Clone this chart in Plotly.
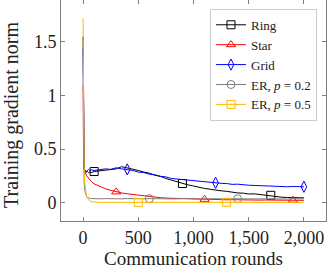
import plotly.graph_objects as go

# ---- data ----
rounds = [0, 2, 5, 10, 15, 20, 30, 40, 50, 60, 75, 100, 150, 200, 250, 300, 350, 400,
          450, 500, 550, 600, 650, 700, 750, 800, 850, 900, 950, 1000, 1050, 1100,
          1150, 1200, 1250, 1300, 1350, 1400, 1450, 1500, 1550, 1600, 1650, 1700,
          1750, 1800, 1850, 1900, 1950, 2000]

ring = [1.55, 0.9, 0.45, 0.32, 0.30, 0.29, 0.285, 0.29, 0.28, 0.285, 0.28, 0.29, 0.295,
        0.30, 0.31, 0.315, 0.335, 0.325, 0.31, 0.30, 0.285, 0.275, 0.255, 0.245, 0.225,
        0.21, 0.19, 0.178, 0.165, 0.155, 0.14, 0.132, 0.125, 0.115, 0.11, 0.105, 0.095,
        0.09, 0.088, 0.08, 0.082, 0.075, 0.072, 0.068, 0.058, 0.05, 0.048, 0.046, 0.045,
        0.044]

star = [1.1, 0.5, 0.33, 0.31, 0.29, 0.275, 0.255, 0.24, 0.225, 0.21, 0.195, 0.175, 0.15,
        0.13, 0.115, 0.10, 0.09, 0.082, 0.075, 0.068, 0.06, 0.056, 0.05, 0.046, 0.042,
        0.04, 0.038, 0.036, 0.034, 0.033, 0.03, 0.03, 0.028, 0.03, 0.027, 0.026, 0.027,
        0.025, 0.026, 0.024, 0.025, 0.023, 0.024, 0.022, 0.023, 0.021, 0.022, 0.022, 0.02,
        0.021]

grid = [1.45, 0.85, 0.42, 0.31, 0.30, 0.30, 0.29, 0.30, 0.31, 0.30, 0.305, 0.30, 0.305,
        0.315, 0.31, 0.325, 0.315, 0.31, 0.30, 0.285, 0.28, 0.265, 0.26, 0.245, 0.24,
        0.225, 0.22, 0.21, 0.21, 0.2, 0.198, 0.19, 0.188, 0.185, 0.18, 0.178, 0.17, 0.172,
        0.165, 0.162, 0.16, 0.158, 0.152, 0.155, 0.15, 0.152, 0.148, 0.15, 0.147, 0.148]

er02 = [1.3, 0.7, 0.35, 0.18, 0.12, 0.09, 0.06, 0.048, 0.042, 0.04, 0.038, 0.036, 0.035,
        0.037, 0.034, 0.036, 0.035, 0.037, 0.034, 0.036, 0.035, 0.037, 0.034, 0.036, 0.035,
        0.034, 0.036, 0.035, 0.037, 0.034, 0.036, 0.035, 0.034, 0.036, 0.035, 0.037, 0.034,
        0.036, 0.035, 0.034, 0.036, 0.035, 0.037, 0.034, 0.036, 0.035, 0.034, 0.036, 0.035,
        0.035]

er05 = [1.72, 0.95, 0.5, 0.28, 0.18, 0.12, 0.065, 0.04, 0.025, 0.015, 0.008, 0.004, 0.002,
        0.002, 0.002, 0.002, 0.002, 0.002, 0.002, 0.002, 0.002, 0.002, 0.002, 0.002, 0.002,
        0.002, 0.002, 0.002, 0.002, 0.002, 0.002, 0.002, 0.002, 0.002, 0.002, 0.002, 0.002,
        0.002, 0.002, 0.002, 0.002, 0.002, 0.002, 0.002, 0.002, 0.002, 0.002, 0.002, 0.002,
        0.002]

ring_marks = [100, 900, 1700]
star_marks = [300, 1100, 1900]
grid_marks = [400, 1200, 2000]
er02_marks = [600, 1400]
er05_marks = [500, 1300]

names = ["Ring", "Star", "Grid", "ER, <i>p</i> = 0.2", "ER, <i>p</i> = 0.5"]
x_tick_vals = [0, 500, 1000, 1500, 2000]
x_tick_text = ["0", "500", "1,000", "1,500", "2,000"]
y_tick_vals = [0, 0.5, 1, 1.5]
y_tick_text = ["0", "0.5", "1", "1.5"]

series = [
    (names[0], ring, ring_marks, "#000000", "square-open"),
    (names[1], star, star_marks, "#FF0000", "triangle-up-open"),
    (names[2], grid, grid_marks, "#0000FF", "diamond-tall-open"),
    (names[3], er02, er02_marks, "#808080", "circle-open"),
    (names[4], er05, er05_marks, "#FFB800", "square-open"),
]

FONT = "Liberation Serif"
fig = go.Figure()
for name, vals, marks, col, sym in series:
    fig.add_trace(go.Scatter(x=rounds, y=vals, mode="lines", showlegend=False,
                             line=dict(color=col, width=1), hoverinfo="skip"))
    mx = [m for m in marks]
    my = [vals[rounds.index(m)] for m in marks]
    fig.add_trace(go.Scatter(x=mx, y=my, mode="markers", showlegend=False,
                             marker=dict(symbol=sym, size=8, color=col,
                                         line=dict(color=col, width=1))))
for name, vals, marks, col, sym in series:
    fig.add_trace(go.Scatter(x=[None], y=[None], mode="lines+markers", name=name,
                             line=dict(color=col, width=1),
                             marker=dict(symbol=sym, size=8, color=col,
                                         line=dict(color=col, width=1))))

axis_common = dict(showline=True, linecolor="#808080", linewidth=1, mirror="ticks",
                   ticks="inside", ticklen=4, tickcolor="#808080", showgrid=False,
                   zeroline=False, automargin=False,
                   tickfont=dict(family=FONT, size=18, color="#222"))

fig.update_layout(
    width=332, height=271,
    margin=dict(l=61, r=6, t=0, b=50),
    paper_bgcolor="white", plot_bgcolor="white",
    font=dict(family=FONT, color="#222"),
    xaxis=dict(range=[-200, 2200], tickvals=x_tick_vals, ticktext=x_tick_text,
               **axis_common),
    yaxis=dict(range=[-0.172, 1.892], tickvals=y_tick_vals, ticktext=y_tick_text,
               **axis_common),
    legend=dict(x=0.966, y=0.96, xanchor="right", yanchor="top",
                bgcolor="white", bordercolor="#cccccc", borderwidth=1,
                font=dict(family=FONT, size=13, color="#222"),
                itemwidth=30, tracegroupgap=0),
    annotations=[
        dict(text="Communication rounds", x=0.5, y=-0.2262, xref="paper", yref="paper",
             xanchor="center", yanchor="bottom", showarrow=False,
             font=dict(family=FONT, size=19, color="#222")),
        dict(text="Training gradient norm", x=-0.185, y=0.48, xref="paper", yref="paper",
             xanchor="center", yanchor="middle", showarrow=False, textangle=-90,
             font=dict(family=FONT, size=20, color="#222")),
    ],
)

fig.write_html("out.html", config={"displayModeBar": False},
               post_script="document.body.style.margin='0';document.body.style.padding='0';")
